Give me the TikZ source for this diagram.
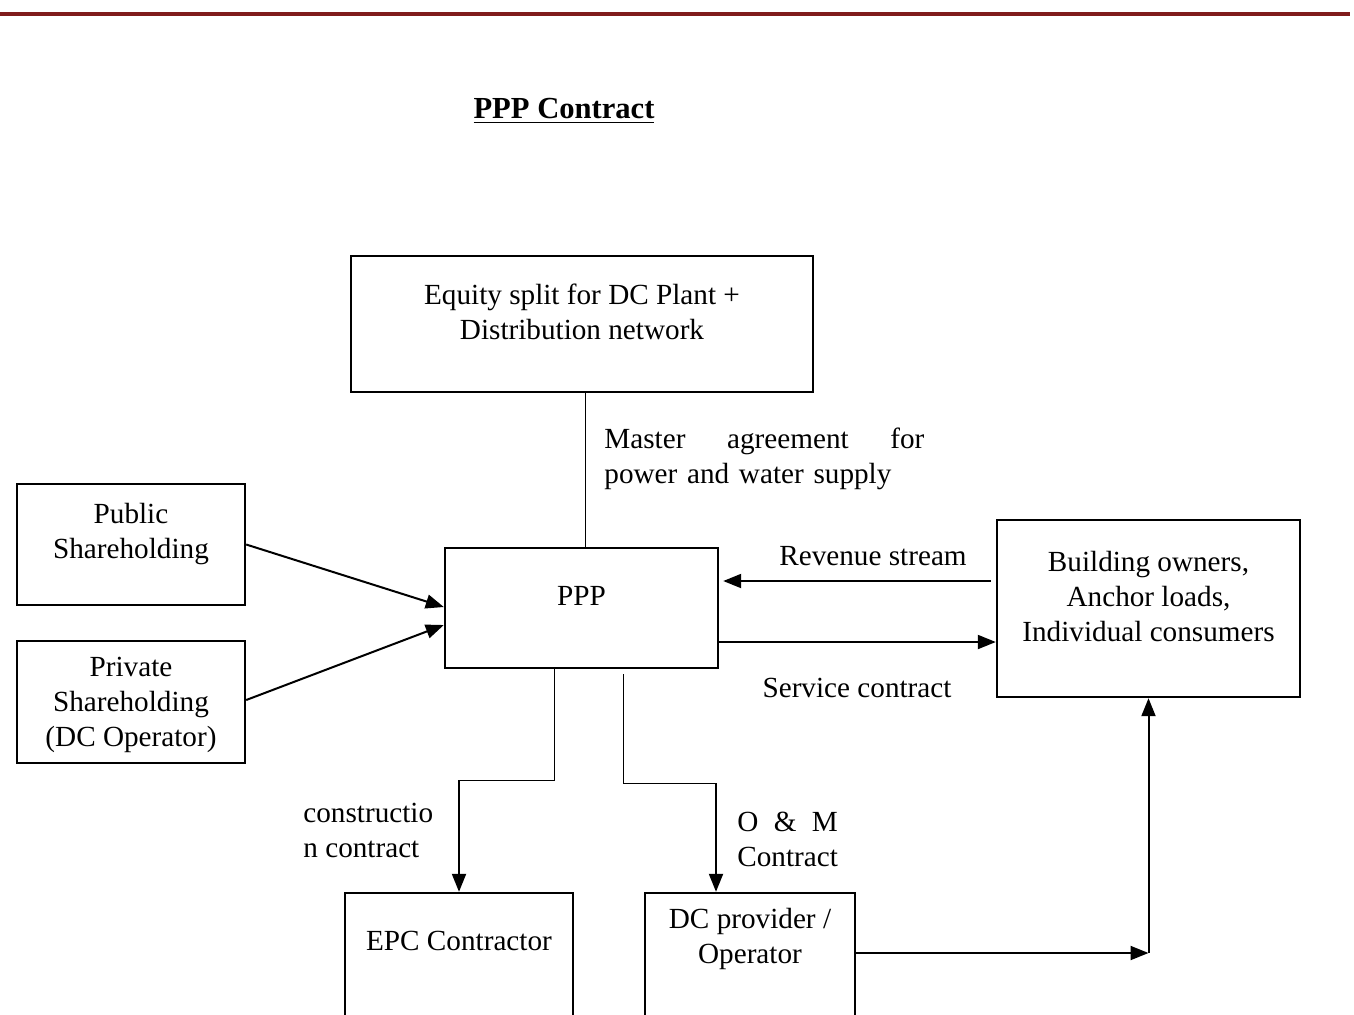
\documentclass[tikz,border=0pt]{standalone}
\usepackage{fontspec}
\setmainfont{Liberation Serif}
\usetikzlibrary{arrows.meta}
\definecolor{rulered}{RGB}{128,28,28}
\begin{document}
\begin{tikzpicture}[x=0.5pt,y=-0.5pt,
  box/.style={draw, line width=1.2pt, inner sep=0pt},
  txt/.style={font=\fontsize{14.6}{17.5}\selectfont, align=center, inner sep=0pt},
  thinline/.style={line width=0.5pt},
  arr/.style={line width=1pt, -{Triangle[length=9pt,width=7pt]}},
]
\useasboundingbox (0,0) rectangle (1354,1014);
\clip (0,0) rectangle (1354,1014);

% header rule and title
\draw[rulered, line width=1.6pt] (0,14) -- (1350,14);
\node[txt, font=\fontsize{15.3}{17.5}\selectfont\bfseries] (title) at (564,111) {\underline{PPP Contract}};

% boxes
\node[box, minimum width=231pt, minimum height=68pt,
  label={[txt, yshift=6pt]center:Equity split for DC Plant +\\Distribution network}] (equity) at (582,324) {};
\node[box, minimum width=114pt, minimum height=60.5pt,
  label={[txt, yshift=5pt]center:Public\\Shareholding}] (public) at (131,544.5) {};
\node[box, minimum width=114pt, minimum height=61pt,
  label={[txt, yshift=-1.5pt]center:Private\\Shareholding\\(DC Operator)}] (private) at (131,702) {};
\node[box, minimum width=136.5pt, minimum height=60pt,
  label={[txt, yshift=6pt]center:PPP}] (ppp) at (581.5,608) {};
\node[box, minimum width=151.5pt, minimum height=88.5pt,
  label={[txt, yshift=6pt]center:Building owners,\\Anchor loads,\\Individual consumers}] (building) at (1148.5,608.5) {};
\node[box, minimum width=114pt, minimum height=70pt] (epc) at (459,963) {};
\node[txt] (epctext) at (459,941) {EPC Contractor};
\node[box, minimum width=105pt, minimum height=70pt] (dc) at (750,963) {};
\node[txt] (dctext) at (750,938.5) {DC provider /\\Operator};

% connector labels
\node[txt, anchor=west, text width=160pt, align=left] (master) at (604,458.5)
  {Master\hfill agreement\hfill for\\power and water supply};
\node[txt] (revenue) at (873,556) {Revenue stream};
\node[txt] (service) at (857,688) {Service contract};
\node[txt, anchor=west, align=left] (construction) at (303,830.5) {constructio\\n contract};
\node[txt, anchor=west, align=left] (om) at (737,839.5)
  {\setbox0\hbox{Contract}\hbox to \wd0{O\hfill\&\hfill M}\\Contract};

% connectors
\draw[thinline] ([xshift=1.5pt]equity.south) -- ([xshift=1.75pt]ppp.north);
\draw[arr] (public.east) -- ([yshift=0.5pt]ppp.west);
\draw[arr] ([yshift=1pt]private.east) -- ([yshift=-8.5pt]ppp.west);
\draw[arr] ([xshift=-2.5pt,yshift=13.75pt]building.west) coordinate (rev0)
  -- ([xshift=2pt]rev0 -| ppp.east);
\draw[arr] ([yshift=-17pt]ppp.east) coordinate (ser0) -- (ser0 -| building.west);

\coordinate (ebend) at (epc.north |- 0,780);
\draw[thinline] ([xshift=-13.75pt]ppp.south) |- (ebend);
\draw[arr] (ebend) -- (epc.north);

\coordinate (dbend) at ([xshift=-17pt]dc.north |- 0,783);
\draw[thinline] ([xshift=20.75pt,yshift=-2.5pt]ppp.south) |- (dbend);
\draw[arr] (dbend) -- ([xshift=-17pt]dc.north);

\coordinate (corner) at (building.south |- 0,953);
\draw[arr] (dc.east |- corner) -- (corner);
\draw[arr] (corner) -- (building.south);
\end{tikzpicture}
\end{document}
